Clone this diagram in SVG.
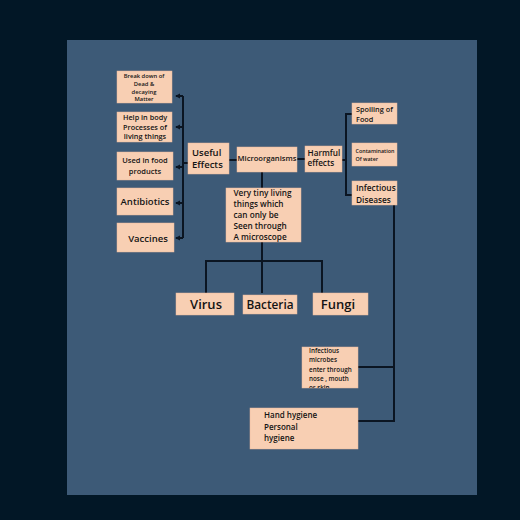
<svg xmlns="http://www.w3.org/2000/svg" width="520" height="520" viewBox="0 0 520 520">
<defs>
<style>
.box{fill:#f8cfb3;stroke:#e9b99c;stroke-width:0.5}
.t{font-family:"Open Sans","Liberation Sans",sans-serif;font-weight:600;fill:#141414}
.c{stroke:#0b1522;stroke-width:2;fill:none}
</style>
<marker id="ah" viewBox="0 0 6 6" refX="5" refY="3" markerWidth="2.6" markerHeight="2.6" orient="auto">
<path d="M0,0 L6,3 L0,6 z" fill="#0b1522"/>
</marker>
<clipPath id="clipInf"><rect x="302" y="347" width="56" height="41"/></clipPath>
</defs>
<rect width="520" height="520" fill="#021726"/>
<rect x="67" y="40" width="410" height="455" fill="#3d5a77"/>
<g id="connectors">
<path class="c" d="M183,96 V238"/>
<path class="c" d="M183,96 H176" marker-end="url(#ah)"/>
<path class="c" d="M183,127 H176" marker-end="url(#ah)"/>
<path class="c" d="M183,167 H176" marker-end="url(#ah)"/>
<path class="c" d="M183,203 H176" marker-end="url(#ah)"/>
<path class="c" d="M183,238 H176" marker-end="url(#ah)"/>
<path class="c" d="M183,163 H188"/>
<path class="c" d="M229,160 H237"/>
<path class="c" d="M297,159 H305"/>
<path class="c" d="M342,160 H346"/>
<path class="c" d="M352,114 H346 V195 H352"/>
<path class="c" d="M262,172 V188"/>
<path class="c" d="M262,242 V293"/>
<path class="c" d="M206,293 V261 H322 V293"/>
<path class="c" d="M394,205 V421 H358"/>
<path class="c" d="M394,367 H358"/>
</g>
<g id="n-break"><rect class="box" x="117" y="71" width="55" height="32"/>
<text class="t" font-size="5.8" text-anchor="middle"><tspan x="144" y="78">Break down of</tspan><tspan x="144" y="86">Dead &amp;</tspan><tspan x="144" y="93.5">decaying</tspan><tspan x="144" y="101">Matter</tspan></text></g>
<g id="n-help"><rect class="box" x="117" y="112" width="55" height="30"/>
<text class="t" font-size="7.3" text-anchor="middle"><tspan x="145" y="120">Help in body</tspan><tspan x="145" y="129.5">Processes of</tspan><tspan x="145" y="139">living things</tspan></text></g>
<g id="n-food"><rect class="box" x="117" y="152" width="56" height="28"/>
<text class="t" font-size="7.5" text-anchor="middle"><tspan x="145" y="163">Used in food</tspan><tspan x="145" y="174">products</tspan></text></g>
<g id="n-anti"><rect class="box" x="117" y="188" width="56" height="27"/>
<text class="t" font-size="9.5" text-anchor="middle" x="145" y="205">Antibiotics</text></g>
<g id="n-vacc"><rect class="box" x="117" y="223" width="57" height="29"/>
<text class="t" font-size="9.5" text-anchor="middle" x="148" y="242">Vaccines</text></g>
<g id="n-useful"><rect class="box" x="188" y="143" width="41" height="31"/>
<text class="t" font-size="9.5"><tspan x="192" y="156">Useful</tspan><tspan x="192" y="168">Effects</tspan></text></g>
<g id="n-micro"><rect class="box" x="237" y="147" width="60" height="25"/>
<text class="t" font-size="7.6" text-anchor="middle" x="267" y="161">Microorganisms</text></g>
<g id="n-harm"><rect class="box" x="305" y="146" width="37" height="26"/>
<text class="t" font-size="8.2"><tspan x="307.5" y="156">Harmful</tspan><tspan x="307.5" y="166">effects</tspan></text></g>
<g id="n-spoil"><rect class="box" x="352" y="103" width="45" height="21"/>
<text class="t" font-size="7.3"><tspan x="356" y="112">Spoiling of</tspan><tspan x="356" y="122">Food</tspan></text></g>
<g id="n-contam"><rect class="box" x="352" y="143" width="45" height="23"/>
<text class="t" font-size="5.4"><tspan x="355.5" y="153">Contamination</tspan><tspan x="355.5" y="161">Of water</tspan></text></g>
<g id="n-infect"><rect class="box" x="352" y="181" width="45" height="24"/>
<text class="t" font-size="8.3"><tspan x="356" y="191">Infectious</tspan><tspan x="356" y="202.5">Diseases</tspan></text></g>
<g id="n-tiny"><rect class="box" x="226" y="188" width="75" height="54"/>
<text class="t" font-size="8.2"><tspan x="233.5" y="196">Very tiny living</tspan><tspan x="233.5" y="207">things which</tspan><tspan x="233.5" y="218">can only be</tspan><tspan x="233.5" y="229">Seen through</tspan><tspan x="233.5" y="240">A microscope</tspan></text></g>
<g id="n-virus"><rect class="box" x="176" y="293" width="58" height="22"/>
<text class="t" font-size="13" font-weight="700" text-anchor="middle" x="206" y="308.5">Virus</text></g>
<g id="n-bacteria"><rect class="box" x="243" y="295" width="54" height="19"/>
<text class="t" font-size="11.8" font-weight="700" text-anchor="middle" x="270" y="308.5">Bacteria</text></g>
<g id="n-fungi"><rect class="box" x="313" y="293" width="55" height="22"/>
<text class="t" font-size="13" font-weight="700" text-anchor="middle" x="338" y="308.5">Fungi</text></g>
<g id="n-microbes"><rect class="box" x="302" y="347" width="56" height="41"/>
<text class="t" font-size="6.3" clip-path="url(#clipInf)"><tspan x="309" y="353">Infectious</tspan><tspan x="309" y="362">microbes</tspan><tspan x="309" y="371.5">enter through</tspan><tspan x="309" y="380.5">nose , mouth</tspan><tspan x="309" y="389.5">or skin</tspan></text></g>
<g id="n-hygiene"><rect class="box" x="250" y="408" width="108" height="41"/>
<text class="t" font-size="8"><tspan x="264" y="418">Hand hygiene</tspan><tspan x="264" y="429.5">Personal</tspan><tspan x="264" y="441">hygiene</tspan></text></g>
</svg>
